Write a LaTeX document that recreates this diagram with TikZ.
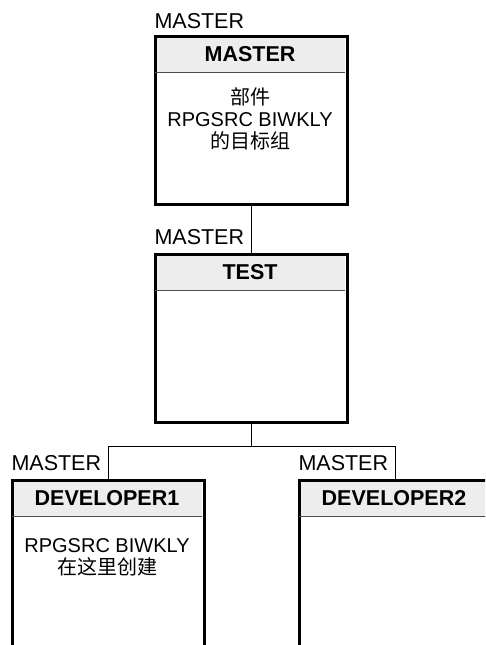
\documentclass[tikz,border=0pt]{standalone}
\usepackage{fontspec}
\setmainfont{Liberation Sans}
\newfontfamily\cjk{Noto Sans CJK SC}
\usetikzlibrary{positioning}

\begin{document}
\begin{tikzpicture}[
    x=1pt, y=-1pt,
    every node/.style={inner sep=0pt, font=\fontsize{21.5}{24}\selectfont},
    head/.style={fill=black!7, minimum width=190pt, minimum height=37pt, anchor=north, font=\fontsize{21.5}{24}\selectfont\bfseries},
    box/.style={draw, line width=2.6pt, minimum width=192pt, anchor=north west},
    sep/.style={draw=black!70, line width=1.2pt},
    link/.style={draw, line width=1pt},
    body/.style={align=center, font=\fontsize{20}{22}\selectfont}
]
\clip (0,0) rectangle (485,645);

% MASTER
\node[head] (mastertitle) at (250,35) {MASTER};
\node[box, minimum height=168pt] (master) at (154,35) {};
\draw[sep] (mastertitle.south west) -- (mastertitle.south east);
\node[body, below=15pt of mastertitle] (masterbody) {{\cjk 部件}\\RPGSRC BIWKLY\\{\cjk 的目标组}};
\node[above left=6pt and 7pt of master.north] {MASTER};

% TEST
\node[head] (testtitle) at (250,253) {TEST};
\node[box, minimum height=168pt] (test) at (154,253) {};
\draw[sep] (testtitle.south west) -- (testtitle.south east);
\node[above left=8pt and 7pt of test.north] {MASTER};
\draw[link] (master) -- (test);

% DEVELOPER1 / DEVELOPER2
\node[head] (dev1title) at (107,479) {DEVELOPER1};
\node[box, minimum height=200pt] (dev1) at (11,479) {};
\draw[sep] (dev1title.south west) -- (dev1title.south east);
\node[body, below=22pt of dev1title] (dev1body) {RPGSRC BIWKLY\\{\cjk 在这里创建}};
\node[above left=8pt and 7pt of dev1.north] {MASTER};

\node[head] (dev2title) at (394,479) {DEVELOPER2};
\node[box, minimum height=200pt] (dev2) at (298,479) {};
\draw[sep] (dev2title.south west) -- (dev2title.south east);
\node[above left=8pt and 7pt of dev2.north] {MASTER};

\coordinate[below=23pt of test] (fork);
\draw[link] (test) -- (fork) -| (dev1);
\draw[link] (fork) -| (dev2);
\end{tikzpicture}
\end{document}
